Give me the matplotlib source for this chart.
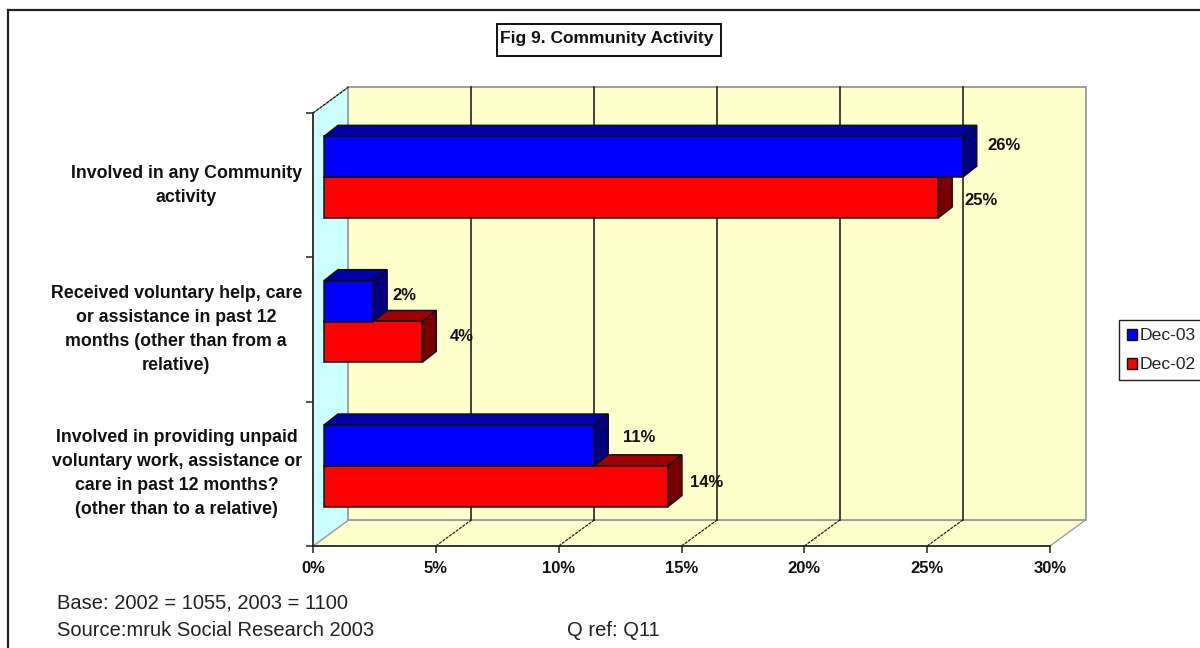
import matplotlib
matplotlib.use("Agg")
import matplotlib.pyplot as plt
from matplotlib.patches import Polygon, Rectangle, Patch
from matplotlib.ticker import FuncFormatter

plt.rcParams["font.family"] = ["Liberation Sans", "DejaVu Sans"]

categories = [
    "Involved in any Community\nactivity",
    "Received voluntary help, care\nor assistance in past 12\nmonths (other than from a\nrelative)",
    "Involved in providing unpaid\nvoluntary work, assistance or\ncare in past 12 months?\n(other than to a relative)",
]
dec_03 = [26, 2, 11]
dec_02 = [25, 4, 14]
series_names = ["Dec-03", "Dec-02"]
x_ticks = [0, 5, 10, 15, 20, 25, 30]

W, H = 1200, 648
fig = plt.figure(figsize=(W / 100, H / 100), dpi=100, facecolor="white")

# Front plane of the pseudo-3D plot area
LEFT, RIGHT, TOP, BOTTOM = 313, 1050, 113, 546
ax = fig.add_axes([LEFT / W, 1 - BOTTOM / H, (RIGHT - LEFT) / W, (BOTTOM - TOP) / H])
ax.set_xlim(0, 30)
ax.set_ylim(0, 3)
ax.patch.set_visible(False)

# Pixel sizes expressed in data units
PX = 30 / (RIGHT - LEFT)
PY = 3 / (BOTTOM - TOP)
WALL_DX, WALL_DY = 35.5 * PX, 26 * PY
BAR_DX, BAR_DY = 14 * PX, 11 * PY
BAR_X0 = 11 * PX
BAR_LIFT = 8 * PY
BAR_H = 40.8 * PY

WALL_YELLOW = "#FFFFCC"
WALL_CYAN = "#CCFFFF"
WALL_EDGE = "#A0A0A0"
INK = "#222222"


def poly(points, face, edge, lw=1.0, z=1, **kw):
    ax.add_patch(Polygon(points, closed=True, facecolor=face, edgecolor=edge,
                         linewidth=lw, zorder=z, clip_on=False, **kw))


# Floor, side wall and back wall
poly([(0, 0), (30, 0), (30 + WALL_DX, WALL_DY), (WALL_DX, WALL_DY)], WALL_YELLOW, WALL_EDGE, z=1)
poly([(0, 0), (WALL_DX, WALL_DY), (WALL_DX, 3 + WALL_DY), (0, 3)], WALL_CYAN, WALL_EDGE, z=1)
poly([(WALL_DX, WALL_DY), (30 + WALL_DX, WALL_DY), (30 + WALL_DX, 3 + WALL_DY), (WALL_DX, 3 + WALL_DY)],
     WALL_YELLOW, WALL_EDGE, 1.4, z=1.5)

# Gridlines run up the back wall and across the floor to each tick
for t in x_ticks[1:-1]:
    ax.plot([t + WALL_DX, t + WALL_DX], [WALL_DY, 3 + WALL_DY], color=INK, lw=1.2, zorder=2, clip_on=False)
    ax.plot([t, t + WALL_DX], [0, WALL_DY], color=INK, lw=0.9, ls=(0, (2.5, 0.8)), zorder=2, clip_on=False)
ax.plot([0, WALL_DX], [3, 3 + WALL_DY], color=INK, lw=0.9, ls=(0, (2.5, 0.8)), zorder=2, clip_on=False)


def bar3d(value, y, front, top, side):
    x0, x1 = BAR_X0, BAR_X0 + value
    edge = "#101010"
    poly([(x0, y + BAR_H), (x1, y + BAR_H), (x1 + BAR_DX, y + BAR_H + BAR_DY), (x0 + BAR_DX, y + BAR_H + BAR_DY)],
         top, edge, 1.1, z=3)
    poly([(x1, y), (x1 + BAR_DX, y + BAR_DY), (x1 + BAR_DX, y + BAR_H + BAR_DY), (x1, y + BAR_H)],
         side, edge, 1.1, z=3)
    ax.add_patch(Rectangle((x0, y), value, BAR_H, facecolor=front, edgecolor=edge,
                           linewidth=1.1, zorder=4, clip_on=False))


label_font = dict(fontsize=12, fontweight="bold", color="#111111", ha="center", va="center", zorder=6)

# Data label placement relative to the bar's end and centre, in pixels
nudge_03 = [(41, 11), (31, 6), (45, 8)]
nudge_02 = [(43, -3), (39, 5), (39, 4)]

n = len(categories)
for i in range(n):
    centre = n - 0.5 - i + BAR_LIFT
    # The lower series sits in front, so the upper bar's side stays visible above it
    bar3d(dec_02[i], centre - BAR_H, "#FF0000", "#A00000", "#7A0000")
    bar3d(dec_03[i], centre, "#0000FF", "#0000A8", "#000080")
    ax.text(BAR_X0 + dec_03[i] + nudge_03[i][0] * PX, centre + BAR_H / 2 + nudge_03[i][1] * PY,
            f"{dec_03[i]}%", **label_font)
    ax.text(BAR_X0 + dec_02[i] + nudge_02[i][0] * PX, centre - BAR_H / 2 + nudge_02[i][1] * PY,
            f"{dec_02[i]}%", **label_font)
    ax.text(-11 * PX, n - 0.5 - i, categories[i], fontsize=12.8, fontweight="bold", color="#111111",
            ha="right", va="center", multialignment="center", linespacing=1.53)

# Axes and ticks
for side in ("top", "right"):
    ax.spines[side].set_visible(False)
for side in ("left", "bottom"):
    ax.spines[side].set_color(INK)
    ax.spines[side].set_linewidth(1.2)
    ax.spines[side].set_zorder(5)
ax.set_xticks(x_ticks)
ax.xaxis.set_major_formatter(FuncFormatter(lambda v, _: f"{v:.0f}%"))
ax.set_yticks(range(n + 1))
ax.set_yticklabels([])
ax.tick_params(axis="both", length=5, width=1.1, color=INK)
ax.tick_params(axis="x", labelsize=12, pad=6, labelcolor="#111111")
for lab in ax.get_xticklabels():
    lab.set_fontweight("bold")

# Outer chart frame, open on the sides cut by the image edge
frame = dict(color="#222222", lw=1.6, transform=fig.transFigure, clip_on=False)
fig.add_artist(plt.Line2D([8 / W, 8 / W], [0, 1 - 10 / H], **frame))
fig.add_artist(plt.Line2D([8 / W, 1], [1 - 10 / H, 1 - 10 / H], **frame))

# Title in its own box
fig.text(607 / W, 1 - 38.5 / H, "Fig 9. Community Activity", fontsize=12.5, fontweight="bold",
         color="#111111", ha="center", va="center")
fig.add_artist(Rectangle((496.5 / W, 1 - 56 / H), 224 / W, 32.5 / H, transform=fig.transFigure,
                         facecolor="none", edgecolor="#111111", linewidth=1.4))

# Legend
handles = [Patch(facecolor="#0000FF", edgecolor="#111111", label=series_names[0]),
           Patch(facecolor="#FF0000", edgecolor="#111111", label=series_names[1])]
fig.legend(handles=handles, loc="upper left", bbox_to_anchor=(1119 / W, 1 - 320.5 / H),
           borderaxespad=0, fancybox=False, framealpha=1, edgecolor="#222222",
           prop={"size": 12.6}, handlelength=0.58, handleheight=0.58, handletextpad=0.14,
           labelspacing=0.8, borderpad=0.45, labelcolor="#222222")

# Footnotes
note = dict(fontsize=14.5, color="#222222", va="center", ha="left")
fig.text(57 / W, 1 - 603 / H, "Base: 2002 = 1055, 2003 = 1100", **note)
fig.text(57 / W, 1 - 630 / H, "Source:mruk Social Research 2003", **note)
fig.text(567 / W, 1 - 630 / H, "Q ref: Q11", **note)

fig.savefig("out.png", dpi=100)
